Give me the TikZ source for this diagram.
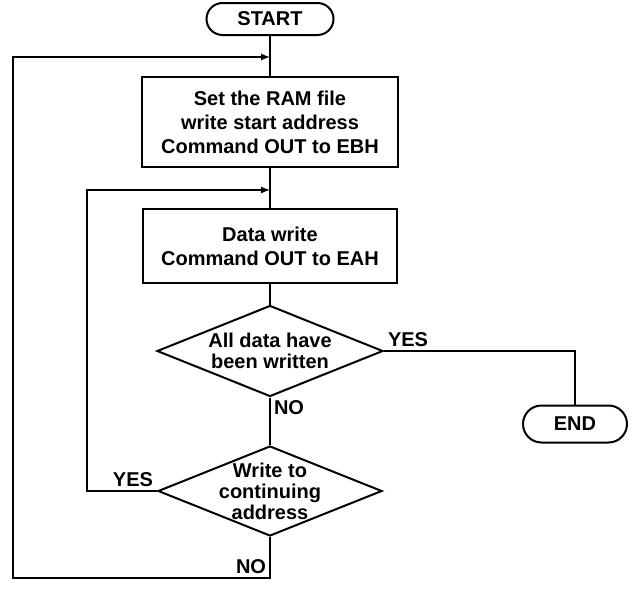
\documentclass[tikz,border=0pt]{standalone}
\usepackage{fontspec}
\setmainfont{Liberation Sans}
\usetikzlibrary{arrows}
\usetikzlibrary{positioning}
\usetikzlibrary{shapes.geometric,shapes.misc}

\begin{document}
\begin{tikzpicture}[x=1pt,y=1pt,node distance=2cm,on grid,auto,line width=2pt,>=latex,
    every node/.style={font=\bfseries\fontsize{20}{24}\selectfont},
    terminal/.style={draw,rounded rectangle,inner sep=0pt},
    process/.style={draw,rectangle,align=center,inner sep=0pt},
    decision/.style={draw,diamond,shape aspect=2.5,inner sep=-4pt,align=center,
        font=\bfseries\fontsize{20}{21}\selectfont},
    lbl/.style={inner sep=3pt}]
                \useasboundingbox (0,0) rectangle (635,-589);
                \node[terminal,minimum width=127pt,minimum height=32pt] (start) at (270,-19) {START};
                \node[process,minimum width=256pt,minimum height=90pt] [below=103pt of start] (set)
                    {Set the RAM file\\write start address\\Command OUT to EBH};
                \node[process,minimum width=254pt,minimum height=74pt] [below=124pt of set] (write)
                    {Data write\\Command OUT to EAH};
                \node[decision,minimum width=226pt,minimum height=91pt] [below=105pt of write] (done)
                    {All data have\\been written};
                \node[decision,minimum width=224pt,minimum height=90pt] [below=140pt of done] (cont)
                    {Write to\\continuing\\address};
                \node[terminal,minimum width=104pt,minimum height=37pt] [below right=73pt and 305pt of done] (stop) {END};
                \coordinate[below=38pt of start] (j1);
                \coordinate[above=56pt of write] (j2);
                \path
                (start) edge (set)
                (set) edge (write)
                (write) edge (done)
                (done) edge node[lbl,pos=0.22] {NO} (cont);
                \draw (done.east) node[lbl,above right] {YES} -| (stop.north);
                \draw[->] (cont.west) node[lbl,above left] {YES} -- ++(-70,0) |- (j2);
                \draw[->] (cont.south) |- node[lbl,above left] {NO} ++(-257,-41) |- (j1);
            \end{tikzpicture}
\end{document}
